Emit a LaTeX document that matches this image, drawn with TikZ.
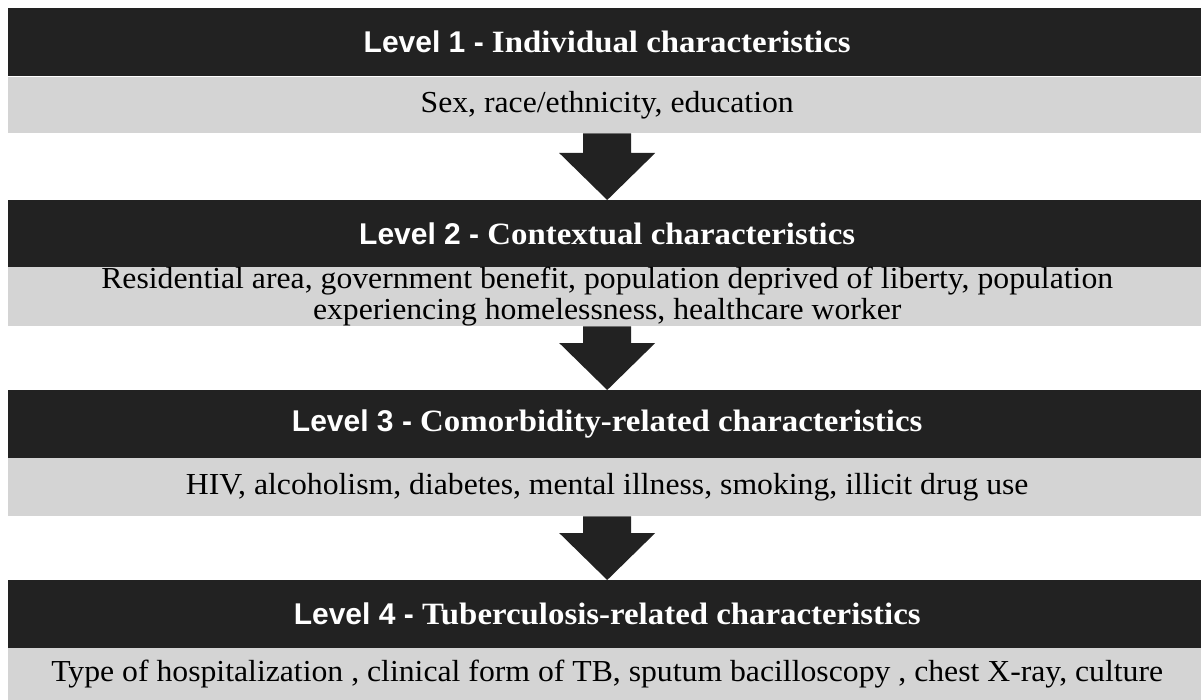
\documentclass[tikz,border=0pt]{standalone}
\usepackage{fontspec}
\setmainfont{Liberation Serif}[FakeStretch=1.04]
\newfontfamily\headserif{Liberation Serif}[FakeStretch=1.06]
\newfontfamily\headsans{Liberation Sans}
\usetikzlibrary{calc}
\definecolor{bardark}{HTML}{222222}
\definecolor{bargray}{HTML}{D4D4D4}
\tikzset{
  headbar/.style={fill=bardark, text=white, minimum width=1198pt, minimum height=68pt,
    anchor=north west, inner sep=0pt, font=\headserif\fontsize{31}{34}\selectfont\bfseries},
  itembar/.style={fill=bargray, text=black, minimum width=1198pt,
    anchor=north west, inner sep=0pt, align=center,
    font=\fontsize{30.5}{31}\selectfont},
  flowarrow/.style={fill=bardark}
}
% header text: sans label, serif title
\newcommand{\levelhead}[2]{{\headsans\fontsize{30}{34}\selectfont Level #1 -} #2}
% block arrow: shaft leaves the bottom of #1, head ends on the top of #2
\newcommand{\levelarrow}[2]{%
  \fill[flowarrow] ($(#1.south)+(-24,0)$) -- ($(#1.south)+(24,0)$)
    -- ($(#2.north)+(24,47)$) -- ($(#2.north)+(48,47)$) -- (#2.north)
    -- ($(#2.north)+(-48,47)$) -- ($(#2.north)+(-24,47)$) -- cycle;}
\begin{document}
\begin{tikzpicture}[x=1pt,y=1pt]
  \useasboundingbox[fill=white] (0,0) rectangle (1201,-700);
  \clip (0,0) rectangle (1201,-700);

  \node[headbar] (h1) at (8,-8) {\levelhead{1}{Individual characteristics}};
  \node[itembar, minimum height=56pt] (g1) at (8,-77) {Sex, race/ethnicity, education};

  \node[headbar, minimum height=67pt] (h2) at (8,-200) {\levelhead{2}{Contextual characteristics}};
  \node[itembar, minimum height=58pt] (g2) at (8,-267)
    {Residential area, government benefit, population deprived of liberty, population\\
     experiencing homelessness, healthcare worker};

  \node[headbar] (h3) at (8,-390) {\levelhead{3}{Comorbidity-related characteristics}};
  \node[itembar, minimum height=58pt] (g3) at (8,-458)
    {HIV, alcoholism, diabetes, mental illness, smoking, illicit drug use};

  \node[headbar] (h4) at (8,-580) {\levelhead{4}{Tuberculosis-related characteristics}};
  \node[itembar, minimum height=52pt] (g4) at (8,-648)
    {Type of hospitalization , clinical form of TB, sputum bacilloscopy , chest X-ray, culture};

  \levelarrow{g1}{h2}
  \levelarrow{g2}{h3}
  \levelarrow{g3}{h4}
\end{tikzpicture}
\end{document}
